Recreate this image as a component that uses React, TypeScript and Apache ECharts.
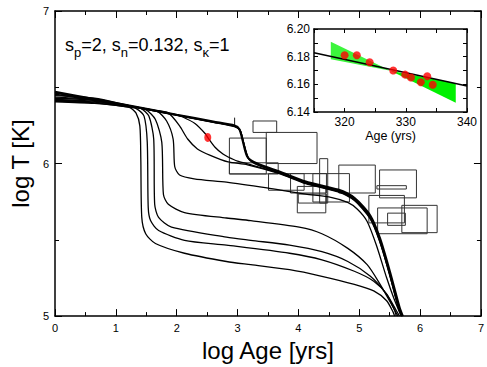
import React, { useEffect, useRef } from 'react';
import * as echarts from 'echarts';

const FONT = '"Liberation Sans", Arial, Helvetica, sans-serif';

// ---- main panel: cooling curves (log Age, log T) ----
const curve1 = [[0,6.405],[0.65,6.394],[1.22,6.368],[1.33,6.332],[1.394,6.247],[1.41,6.032],[1.426,5.647],[1.49,5.54],[1.65,5.476],[2.128,5.412],[2.818,5.358],[3.217,5.337],[3.855,5.304],[4.386,5.261],[4.919,5.208],[5.238,5.165],[5.45,5.101],[5.557,5.026],[5.582,5.0]];
const curve2 = [[0,6.41],[0.65,6.398],[1.22,6.37],[1.33,6.362],[1.463,6.311],[1.516,6.139],[1.532,5.711],[1.57,5.626],[1.703,5.561],[2.128,5.497],[2.818,5.465],[3.855,5.412],[4.386,5.369],[4.919,5.294],[5.238,5.229],[5.45,5.144],[5.582,5.037],[5.609,5.0]];
const curve3 = [[0,6.415],[0.65,6.403],[1.22,6.373],[1.41,6.362],[1.542,6.311],[1.622,6.161],[1.638,5.733],[1.702,5.647],[1.914,5.583],[2.818,5.518],[3.217,5.497],[3.855,5.465],[4.386,5.422],[4.812,5.358],[5.183,5.261],[5.45,5.144],[5.609,5.037],[5.662,5.0]];
const curve4 = [[0,6.42],[0.65,6.408],[1.22,6.375],[1.49,6.353],[1.65,6.289],[1.755,6.139],[1.782,5.797],[1.862,5.733],[2.128,5.679],[2.818,5.643],[3.217,5.626],[4.014,5.583],[4.386,5.54],[4.812,5.444],[5.13,5.337],[5.343,5.208],[5.557,5.058],[5.636,5.0]];
const curve5 = [[0,6.428],[0.65,6.414],[1.22,6.377],[1.675,6.343],[1.834,6.279],[1.941,6.161],[1.968,5.979],[2.047,5.925],[2.286,5.9],[2.818,5.878],[3.483,5.84],[4.121,5.8],[4.5,5.782],[4.81,5.745],[4.97,5.7],[5.13,5.62],[5.29,5.455],[5.45,5.251],[5.57,5.115],[5.689,5.0]];
const curve6 = [[0,6.436],[0.65,6.42],[1.22,6.378],[1.6,6.35],[1.86,6.332],[2.047,6.247],[2.18,6.161],[2.34,6.096],[2.552,6.054],[2.845,6.011],[3.164,5.992],[3.7,5.932],[4.12,5.868],[4.65,5.814],[4.92,5.757],[5.175,5.64],[5.33,5.495],[5.49,5.285],[5.645,5.05],[5.695,5.0]];
const curve7 = [[0,6.445],[0.65,6.428],[1.22,6.38],[1.7,6.343],[1.97,6.322],[2.1,6.305],[2.3,6.262],[2.47,6.195],[2.515,6.168],[2.63,6.107],[2.76,6.062],[2.845,6.043],[3.0,6.016],[3.164,5.998],[3.7,5.936],[4.12,5.872],[4.65,5.818],[4.92,5.762],[5.18,5.645],[5.335,5.5],[5.492,5.29],[5.65,5.052],[5.7,5.0]];
const thick1 = [[0,6.47],[0.65,6.422],[1.22,6.38],[2.0,6.32],[2.6,6.275],[2.95,6.249],[3.03,6.225],[3.085,6.15],[3.164,6.043],[3.324,6.0],[3.696,5.946],[4.121,5.882],[4.652,5.829],[4.919,5.775],[5.183,5.658],[5.343,5.508],[5.502,5.294],[5.662,5.058],[5.716,5.0]];
const thick2 = [[0,6.462],[0.65,6.418],[1.22,6.378],[2.0,6.318],[2.6,6.272],[2.95,6.245],[3.04,6.22],[3.095,6.14],[3.175,6.035],[3.33,5.994],[3.7,5.941],[4.12,5.877],[4.65,5.824],[4.92,5.769],[5.18,5.65],[5.34,5.5],[5.495,5.29],[5.655,5.055],[5.705,5.0]];
const thick3 = [[0,6.455],[0.65,6.414],[1.22,6.377],[2.0,6.316],[2.6,6.27],[2.95,6.242],[3.045,6.215],[3.1,6.135],[3.185,6.03],[3.34,5.99],[3.7,5.938],[4.12,5.874],[4.65,5.82],[4.92,5.765],[5.18,5.645],[5.335,5.495],[5.49,5.285],[5.65,5.05],[5.7,5.0]];

const thinCurves = [curve1, curve2, curve3, curve4, curve5, curve6, curve7];
const thickCurves = [thick1, thick2, thick3];

// observation boxes: [ageMin, ageMax, TMin, TMax]
const boxes = [
  [3.254,3.643,6.204,6.279],
  [3.472,4.306,6.0,6.204],
  [2.866,3.472,5.932,6.167],
  [2.866,3.668,5.932,6.005],
  [3.509,4.094,5.825,5.934],
  [3.871,4.461,5.807,5.934],
  [3.982,4.45,5.677,5.85],
  [3.998,4.46,5.741,5.8],
  [4.238,4.839,5.748,5.934],
  [4.349,4.482,5.741,6.032],
  [4.664,5.264,5.807,5.99],
  [5.334,5.94,5.775,5.958],
  [5.29,5.774,5.833,5.855],
  [5.158,5.742,5.611,5.791],
  [5.302,6.116,5.54,5.709],
  [5.7,6.28,5.547,5.726],
  [5.466,5.758,5.595,5.675],
  [2.951,2.951,6.247,6.3],
];

const markerPoint = [[2.51, 6.171]];

// ---- inset ----
const insetAges = [320, 322, 324.1, 327.95, 329.9, 330.85, 332.45, 333.5, 334.4];
const insetLogT = [6.181, 6.181, 6.176, 6.17, 6.167, 6.165, 6.1615, 6.1658, 6.1597];
const fitLine = [[315, 6.1829], [340, 6.1588]];
const bandLeft = [[317.75, 6.1908], [327.5, 6.1698], [317.75, 6.1781]];
const bandRight = [[327.5, 6.1698], [338.16, 6.1607], [338.16, 6.1467]];
const bandPolys = [bandLeft, bandRight];
const bandColors = ['#3cf53c', '#00f000'];

const mainXTicks = [0, 7];
const mainYTicks = [5, 7];
const insetXRange = [315, 340];
const insetYRange = [6.14, 6.2];

const black = '#000';

function mainAxis(extra: any) {
  return {
    type: 'value',
    splitLine: { show: false },
    axisLine: { show: true, onZero: false, lineStyle: { color: black, width: 1.5 } },
    axisTick: { show: true, inside: true, length: 7, lineStyle: { color: black, width: 1 } },
    minorTick: { show: true, splitNumber: 2, length: 4, lineStyle: { color: black, width: 1 } },
    axisLabel: { show: true, color: black, fontSize: 11, fontFamily: FONT, margin: 6 },
    ...extra,
  };
}

function insetAxis(extra: any) {
  return {
    type: 'value',
    gridIndex: 1,
    splitLine: { show: false },
    axisLine: { show: true, onZero: false, lineStyle: { color: black, width: 1.5 } },
    axisTick: { show: true, inside: true, length: 4, lineStyle: { color: black, width: 1 } },
    axisLabel: { show: true, color: black, fontSize: 12, fontFamily: FONT, margin: 4 },
    ...extra,
  };
}

export default function App() {
  const ref = useRef<HTMLDivElement>(null);
  useEffect(() => {
    const chart = echarts.init(ref.current!, null, { renderer: 'svg' });
    const series: any[] = [];
    series.push({
      type: 'custom',
      xAxisIndex: 0,
      yAxisIndex: 0,
      encode: { x: [0, 1], y: [2, 3] },
      data: boxes,
      silent: true,
      renderItem: (params: any, api: any) => {
        const p1 = api.coord([api.value(0), api.value(3)]);
        const p2 = api.coord([api.value(1), api.value(2)]);
        return {
          type: 'rect',
          shape: { x: p1[0], y: p1[1], width: p2[0] - p1[0], height: p2[1] - p1[1] },
          style: { fill: 'none', stroke: '#333', lineWidth: 1 },
        };
      },
      z: 2,
    });
    thinCurves.forEach((c) => {
      series.push({
        type: 'line', xAxisIndex: 0, yAxisIndex: 0, data: c, symbol: 'none', smooth: 0.25,
        lineStyle: { color: black, width: 1.3 }, z: 3, silent: true,
      });
    });
    thickCurves.forEach((c, i) => {
      series.push({
        type: 'line', xAxisIndex: 0, yAxisIndex: 0, data: c, symbol: 'none', smooth: 0.25,
        lineStyle: { color: black, width: i === 0 ? 2.2 : 1.5 }, z: 3, silent: true,
      });
    });
    series.push({
      type: 'scatter', xAxisIndex: 0, yAxisIndex: 0, data: markerPoint,
      symbol: 'circle', symbolSize: [7, 9], itemStyle: { color: '#ff0000' }, z: 5, silent: true,
    });
    // inset
    series.push({
      type: 'custom', xAxisIndex: 2, yAxisIndex: 2,
      data: bandPolys.map((_, i) => [i]),
      silent: true,
      renderItem: (params: any, api: any) => {
        const poly = bandPolys[params.dataIndex];
        return {
          type: 'polygon',
          shape: { points: poly.map((p) => api.coord(p)) },
          style: { fill: bandColors[params.dataIndex], stroke: 'none' },
        };
      },
      z: 2,
    });
    series.push({
      type: 'line', xAxisIndex: 2, yAxisIndex: 2, data: fitLine, symbol: 'none',
      lineStyle: { color: black, width: 1.5 }, z: 3, silent: true,
    });
    series.push({
      type: 'scatter', xAxisIndex: 2, yAxisIndex: 2,
      data: insetAges.map((a, i) => [a, insetLogT[i]]),
      symbol: 'circle', symbolSize: 8, itemStyle: { color: '#ff0000' }, z: 4, silent: true,
    });

    chart.setOption({
      animation: false,
      backgroundColor: '#fff',
      textStyle: { fontFamily: FONT },
      grid: [
        { left: 48, top: 11, width: 438, height: 311 },
        { left: 314, top: 29, width: 153, height: 83, show: true, backgroundColor: '#fff', borderWidth: 0 },
      ],
      xAxis: [
        mainAxis({
          gridIndex: 0, min: mainXTicks[0], max: mainXTicks[1], interval: 1, position: 'bottom',
          name: 'log Age [yrs]', nameLocation: 'middle', nameGap: 14,
          nameTextStyle: { fontSize: 24, color: black, fontFamily: FONT },
        }),
        mainAxis({
          gridIndex: 0, min: mainXTicks[0], max: mainXTicks[1], interval: 1, position: 'top',
          axisLabel: { show: false },
        }),
        insetAxis({
          min: insetXRange[0], max: insetXRange[1], interval: 5, position: 'bottom',
          axisLabel: { show: true, color: black, fontSize: 12, fontFamily: FONT, margin: 4,
            formatter: (v: number) => (Math.round(v) % 10 === 0 ? String(Math.round(v)) : '') },
          name: 'Age (yrs)', nameLocation: 'middle', nameGap: 17,
          nameTextStyle: { fontSize: 12.5, color: black, fontFamily: FONT },
        }),
        insetAxis({
          min: insetXRange[0], max: insetXRange[1], interval: 5, position: 'top',
          axisLabel: { show: false },
        }),
      ],
      yAxis: [
        mainAxis({
          gridIndex: 0, min: mainYTicks[0], max: mainYTicks[1], interval: 1, position: 'left',
          name: 'log T [K]', nameLocation: 'middle', nameGap: 17,
          nameTextStyle: { fontSize: 24, color: black, fontFamily: FONT },
        }),
        mainAxis({
          gridIndex: 0, min: mainYTicks[0], max: mainYTicks[1], interval: 1, position: 'right',
          axisLabel: { show: false },
        }),
        insetAxis({
          min: insetYRange[0], max: insetYRange[1], interval: 0.01, position: 'left',
          axisLabel: { show: true, color: black, fontSize: 12, fontFamily: FONT, margin: 4,
            formatter: (v: number) => (Math.round(v * 100) % 2 === 0 ? v.toFixed(2) : '') },
        }),
        insetAxis({
          min: insetYRange[0], max: insetYRange[1], interval: 0.01, position: 'right',
          axisLabel: { show: false },
        }),
      ],
      graphic: [
        {
          type: 'text', x: 65, y: 31, z: 10,
          style: {
            text: '{m|s}{s|p}{m|=2, s}{s|n}{m|=0.132, s}{s|κ}{m|=1}',
            align: 'left',
            verticalAlign: 'top',
            rich: {
              m: { fontSize: 18, lineHeight: 28, fontFamily: FONT, fill: black, color: black },
              s: { fontSize: 13, lineHeight: 13, verticalAlign: 'bottom', fontFamily: FONT, fill: black, color: black },
            },
          },
        },
      ],
      series,
    });
    return () => chart.dispose();
  }, []);
  return (
    <div
      ref={ref}
      style={{ position: 'fixed', left: 0, top: 0, width: 487, height: 367, background: '#fff' }}
    />
  );
}
